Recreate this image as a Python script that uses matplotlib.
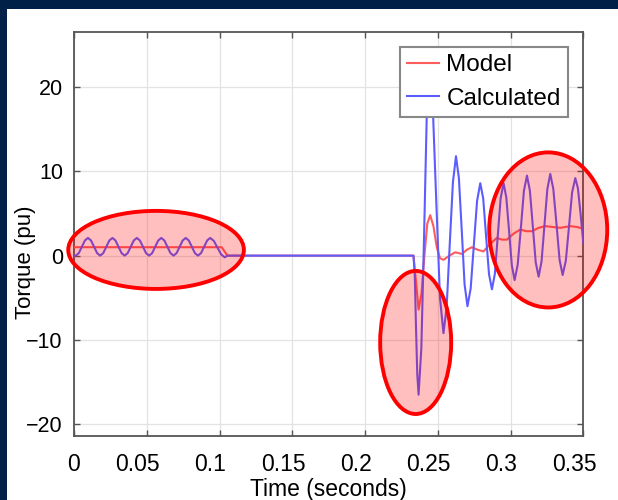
import matplotlib
matplotlib.use("Agg")
import matplotlib.pyplot as plt
from matplotlib.patches import Ellipse, Rectangle
from matplotlib.transforms import ScaledTranslation

plt.rcParams['font.family'] = ['Liberation Sans', 'DejaVu Sans']

# ---------------- data ----------------
calc_t = [0.0, 0.0012, 0.0033, 0.0054, 0.0075, 0.0096, 0.0117, 0.0138, 0.0159, 0.0180,
          0.0201, 0.0222, 0.0243, 0.0264, 0.0285, 0.0306, 0.0327, 0.0348,
          0.0369, 0.0390, 0.0411, 0.0432, 0.0453, 0.0474, 0.0495, 0.0516,
          0.0537, 0.0558, 0.0579, 0.0600, 0.0621, 0.0642, 0.0663, 0.0684,
          0.0705, 0.0726, 0.0747, 0.0768, 0.0789, 0.0810, 0.0831, 0.0852,
          0.0873, 0.0894, 0.0915, 0.0936, 0.0961, 0.0986, 0.1011, 0.1036, 0.1055,
          0.2333, 0.2342, 0.2350, 0.2359, 0.2368,
          0.2387, 0.2406, 0.2424, 0.2443,
          0.2467, 0.2491, 0.2515, 0.2539,
          0.2561, 0.2582, 0.2604, 0.2625,
          0.2645, 0.2665, 0.2684, 0.2704,
          0.2726, 0.2748, 0.2770, 0.2792,
          0.2812, 0.2832, 0.2852, 0.2872,
          0.2892, 0.2912, 0.2932, 0.2952,
          0.2971, 0.2990, 0.3009, 0.3028,
          0.3049, 0.3071, 0.3092, 0.3113,
          0.3133, 0.3153, 0.3173, 0.3193,
          0.3213, 0.3233, 0.3253, 0.3273,
          0.3294, 0.3316, 0.3337, 0.3358,
          0.3380, 0.3402, 0.3423, 0.3445,
          0.3463, 0.3481, 0.3500]
calc_v = [0.0, 0.0, 0.3, 1.05, 1.8, 2.1, 1.8, 1.05, 0.3, 0.0,
          0.3, 1.05, 1.8, 2.1, 1.8, 1.05, 0.3, 0.0,
          0.3, 1.05, 1.8, 2.1, 1.8, 1.05, 0.3, 0.0,
          0.3, 1.05, 1.8, 2.1, 1.8, 1.05, 0.3, 0.0,
          0.3, 1.05, 1.8, 2.1, 1.8, 1.05, 0.3, 0.0,
          0.3, 1.05, 1.8, 2.1, 1.75, 0.95, 0.15, -0.2, 0.0,
          0.0, -2.4, -8.3, -14.1, -16.5,
          -11.0, 2.5, 16.5, 22.0,
          17.0, 5.8, -5.0, -9.2,
          -6.1, 1.3, 8.7, 11.8,
          9.2, 2.9, -3.4, -6.0,
          -3.9, 1.3, 6.5, 8.6,
          6.8, 2.3, -2.2, -4.0,
          -2.2, 2.3, 6.8, 8.6,
          6.9, 2.9, -1.2, -2.9,
          -1.1, 3.3, 7.7, 9.5,
          7.7, 3.5, -0.8, -2.5,
          -0.7, 3.6, 7.9, 9.7,
          7.9, 3.7, -0.5, -2.3,
          -0.6, 3.5, 7.5, 9.2,
          8.0, 5.0, 1.5]

model_t = [0.0, 0.1015, 0.1054, 0.2333, 0.2350, 0.2368, 0.2388, 0.2408, 0.2428, 0.2448,
           0.2470, 0.2493, 0.2515, 0.2539, 0.2580, 0.2620, 0.2666, 0.2700, 0.2734,
           0.2774, 0.2814, 0.2860, 0.2906, 0.2940, 0.2975, 0.3020, 0.3067, 0.3107,
           0.3147, 0.3193, 0.3239, 0.3290, 0.3342, 0.3376, 0.3410, 0.3455, 0.3500]
model_v = [1.0, 1.0, 0.0, 0.0, -3.0, -6.4, -4.5, 0.0, 3.8, 4.8,
           3.5, 1.0, -0.3, -0.5, 0.0, 0.4, 0.2, 0.7, 1.0,
           0.7, 0.5, 1.4, 2.1, 1.9, 1.9, 2.6, 3.1, 2.9,
           2.9, 3.3, 3.5, 3.4, 3.3, 3.4, 3.5, 3.4, 3.2]

series_names = ["Model", "Calculated"]
x_ticks = [0, 0.05, 0.1, 0.15, 0.2, 0.25, 0.3, 0.35]
x_tick_labels = ["0", "0.05", "0.1", "0.15", "0.2", "0.25", "0.3", "0.35"]
y_ticks = [-20, -10, 0, 10, 20]

# highlight ellipses: (center t, center value, width in s, height in pu)
ellipse_cx = [0.0564, 0.2348, 0.3259]
ellipse_cy = [0.68, -10.3, 3.05]
ellipse_w = [0.1207, 0.0488, 0.0811]
ellipse_h = [9.26, 16.98, 18.4]

# ---------------- figure ----------------
fig = plt.figure(figsize=(6.18, 5.0), dpi=100)
fig.patch.set_facecolor('#002048')
fig.patches.append(Rectangle((7 / 618, 0), 1, (500 - 9) / 500, transform=fig.transFigure,
                             facecolor='white', edgecolor='none', zorder=-10))

ax = fig.add_axes([74 / 618, (500 - 436) / 500, (583.3 - 74) / 618, (436 - 32.3) / 500])
ax.set_facecolor('white')

ax.plot(model_t, model_v, color='#ff5c5c', lw=1.5, label=series_names[0], zorder=3)
ax.plot(calc_t, calc_v, color='#5c5cff', lw=1.5, label=series_names[1], zorder=4)

for cx, cy, w, h in zip(ellipse_cx, ellipse_cy, ellipse_w, ellipse_h):
    e = Ellipse((cx, cy), w, h, facecolor=(1, 0, 0, 0.25), edgecolor=(1, 0, 0, 1),
                lw=2.8, zorder=5, clip_on=False)
    ax.add_patch(e)

ax.set_xlim(0, 0.35)
ax.set_ylim(-21.4, 26.5)
ax.set_xticks(x_ticks)
ax.set_xticklabels(x_tick_labels)
ax.set_yticks(y_ticks)

ax.grid(True, color='#e3e3e3', lw=0.9)
ax.set_axisbelow(True)
for s in ax.spines.values():
    s.set_color('#555555')
    s.set_linewidth(1.3)
ax.tick_params(direction='in', length=4, width=1, color='#555555', top=True, right=True,
               labelcolor='black')
ax.tick_params(axis='y', labelsize=15.5, pad=8)
ax.tick_params(axis='x', labelsize=16.5, pad=12)

# x tick labels in the reference sit a little left of their ticks
shift = ScaledTranslation(-9 / 100, 0, fig.dpi_scale_trans)
for i, lab in enumerate(ax.get_xticklabels()):
    if i > 0:
        lab.set_transform(lab.get_transform() + shift)

ax.set_xlabel('Time (seconds)', fontsize=16.5, labelpad=2)
ax.set_ylabel('Torque (pu)', fontsize=16)
ax.yaxis.set_label_coords(-0.0746, 0.431)

leg = ax.legend(loc='upper right', bbox_to_anchor=(0.970, 0.9636), fontsize=17.5,
                frameon=True, fancybox=False, framealpha=1, edgecolor='#888888',
                handlelength=1.3, handletextpad=0.3, labelspacing=0.48,
                borderpad=0.3, borderaxespad=0)
leg.get_frame().set_linewidth(1.5)
leg.set_zorder(10)

fig.savefig('out.png', dpi=100, facecolor=fig.get_facecolor())
